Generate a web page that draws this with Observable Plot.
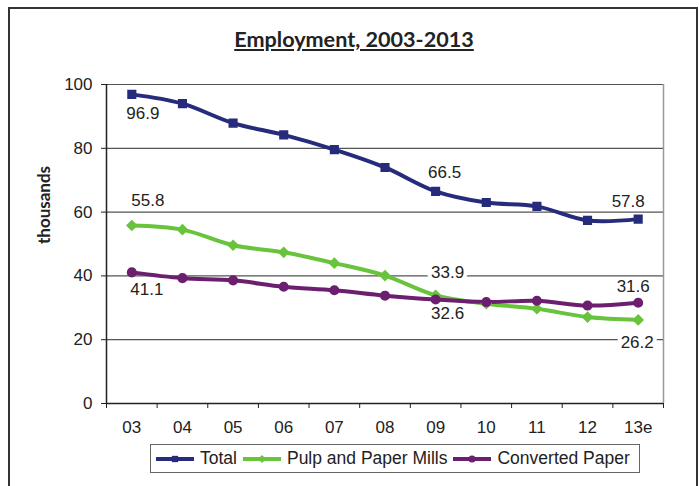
<!DOCTYPE html>
<html><head><meta charset="utf-8">
<script src="https://cdn.jsdelivr.net/npm/d3@7"></script>
<script src="https://cdn.jsdelivr.net/npm/@observablehq/plot@0.6"></script>
<style>
html,body{margin:0;padding:0;background:#fff;}
body{width:699px;height:486px;position:relative;overflow:hidden;font-family:"Liberation Sans",Arial,sans-serif;color:#222;}
#frame{position:absolute;left:8px;top:7px;width:686px;height:520px;border:2px solid #333;border-bottom:none;}
#title{position:absolute;left:0;width:708px;top:26px;text-align:center;font:bold 21.6px Lato,sans-serif;text-decoration:underline;color:#222;}
#chart{position:absolute;left:0;top:60px;}
#legend{position:absolute;left:150px;top:444px;width:490px;height:29px;border:1px solid #666;display:flex;align-items:center;box-sizing:border-box;padding-left:5px;font-size:17.5px;}
.item{display:flex;align-items:center;margin-right:6px;}
.item svg{margin-right:6px;}
</style>
</head><body>
<div id="frame"></div>
<div id="title">Employment, 2003-2013</div>
<div id="chart"></div>
<div id="legend"></div>
<script>
const years = ["03","04","05","06","07","08","09","10","11","12","13e"];
const total = [96.9, 94.0, 87.9, 84.2, 79.6, 74.0, 66.5, 63.0, 61.8, 57.4, 57.8];
const pulp = [55.8, 54.5, 49.6, 47.4, 44.0, 40.1, 33.9, 31.3, 29.7, 27.1, 26.2];
const converted = [41.1, 39.3, 38.6, 36.6, 35.5, 33.8, 32.6, 31.8, 32.2, 30.7, 31.6];
const seriesNames = ["Total", "Pulp and Paper Mills", "Converted Paper"];
const seriesColors = ["#262B7B", "#69C33D", "#6C1F6F"];
const seriesSymbols = ["square", "diamond2", "circle"];
const yTicks = [0, 20, 40, 60, 80, 100];
const yLabel = "thousands";

const series = [total, pulp, converted];
const rows = series.flatMap((vals, s) => vals.map((v, i) => ({series: seriesNames[s], i, v})));

// data labels: [series index, point index, dx, dy, halo]
const labelSpecs = [
  [0, 0, 11, 19, false], [0, 6, 9, -19, false], [0, 10, -10, -18, false],
  [1, 0, 16, -25, true], [1, 6, 12, -23, true], [1, 10, -1, 23, true],
  [2, 0, 15, 17, false], [2, 6, 12, 14, false], [2, 10, -5, -16, false]
];
const labelMarks = labelSpecs.map(([s, i, dx, dy, halo]) =>
  Plot.text([{i, v: series[s][i]}], {
    x: "i", y: "v", text: d => d.v.toFixed(1), dx, dy,
    fill: "#222", fontSize: 17,
    stroke: halo ? "white" : null, strokeWidth: halo ? 8 : 0
  })
);

const chart = Plot.plot({
  width: 699, height: 380,
  marginLeft: 106, marginRight: 36, marginTop: 24, marginBottom: 37,
  style: {fontFamily: '"Liberation Sans", Arial, sans-serif', fontSize: "17px", color: "#222", background: "transparent", overflow: "visible"},
  x: {type: "linear", domain: [-0.5, years.length - 0.5]},
  y: {domain: [0, 100]},
  color: {domain: seriesNames, range: seriesColors},
  symbol: {domain: seriesNames, range: seriesSymbols},
  marks: [
    Plot.ruleY(yTicks.filter(d => d > 0), {stroke: "#555", strokeWidth: 1.2}),
    Plot.ruleX([years.length - 0.5], {stroke: "#999", strokeWidth: 1.5}),
    Plot.ruleX([-0.5], {stroke: "#222", strokeWidth: 1.5}),
    Plot.ruleY([0], {stroke: "#222", strokeWidth: 1.5}),
    Plot.axisY({ticks: yTicks, tickSize: 5, tickPadding: 9, label: null, stroke: "#222"}),
    Plot.axisX({ticks: d3.range(-0.5, years.length, 1), tickSize: 5, tickFormat: () => "", label: null, stroke: "#222"}),
    Plot.axisX({ticks: d3.range(years.length), tickSize: 0, tickPadding: 17, tickFormat: i => years[i], label: null}),
    Plot.line(rows, {x: "i", y: "v", z: "series", stroke: "series", strokeWidth: 4, curve: "catmull-rom"}),
    Plot.dot(rows, {x: "i", y: "v", symbol: "series", fill: "series", stroke: "series", r: 4.3}),
    ...labelMarks,
    Plot.text([yLabel], {frameAnchor: "left", rotate: -90, dx: -62, fontWeight: "bold", fontSize: 17, fontFamily: "Lato, sans-serif", fill: "#222"})
  ]
});
document.getElementById("chart").append(chart);

const legend = d3.select("#legend");
seriesNames.forEach((name, k) => {
  const item = legend.append("div").attr("class", "item");
  const svg = item.append("svg").attr("width", 38).attr("height", 12);
  svg.append("line").attr("x1", 0).attr("x2", 38).attr("y1", 6).attr("y2", 6)
    .attr("stroke", seriesColors[k]).attr("stroke-width", 4);
  const sym = {square: d3.symbolSquare, diamond2: d3.symbolDiamond2, circle: d3.symbolCircle}[seriesSymbols[k]];
  svg.append("path").attr("transform", "translate(19,6)")
    .attr("d", d3.symbol(sym, 40)()).attr("fill", seriesColors[k]);
  item.append("span").text(name);
});
</script>
</body></html>
